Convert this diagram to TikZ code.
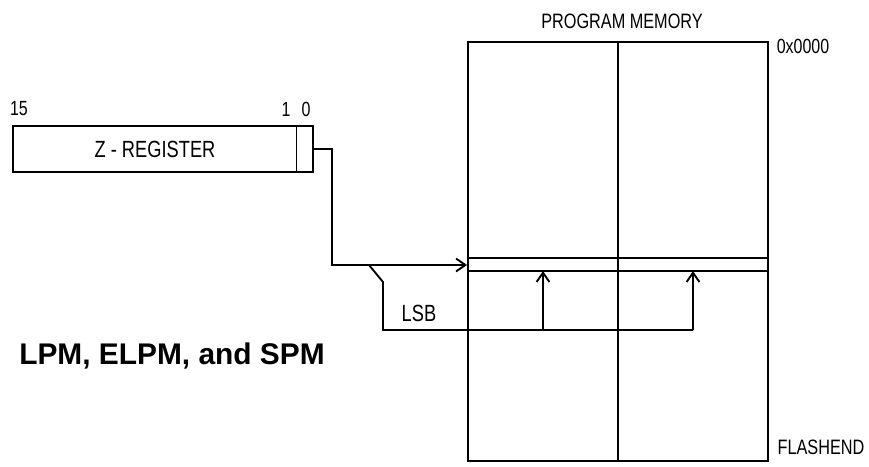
\documentclass[tikz,border=0pt]{standalone}
\usepackage{fontspec}
\setmainfont{Liberation Sans}
\newfontfamily\narrowsf[FakeStretch=0.78]{Liberation Sans}
\usepackage{tikz}
\usetikzlibrary{positioning}
\usetikzlibrary{arrows.meta}
\usetikzlibrary{fit}

\tikzset{
  wire/.style={line width=1.6pt},
  tip/.style={-{Straight Barb[length=8pt,width=11pt,line width=1.6pt]}},
  box/.style={draw, line width=1.6pt, inner sep=0pt},
  lbl/.style={font=\narrowsf\fontsize{17.8}{20}\selectfont, inner sep=0pt},
  bitlbl/.style={font=\narrowsf\fontsize{17.5}{19}\selectfont, inner sep=0pt},
}

\begin{document}
\begin{tikzpicture}[x=0.03cm, y=-0.03cm]
\useasboundingbox (0,0) rectangle (869,466);

%---------------------------------------
% Z register
%---------------------------------------
\coordinate (zr-nw) at (13,126);
\coordinate (zr-se) at (313,172);
\node[box, fit=(zr-nw)(zr-se)] (zreg) {};
\draw[line width=0.8pt] (296,126) -- (296,172);  % bit 0
\node[lbl, font=\narrowsf\fontsize{20}{22}\selectfont] (zname) at (155,149) {Z - REGISTER};
\node[bitlbl] (bit15) at (19,109) {15};
\node[bitlbl] (bit1) at (286,109) {1};
\node[bitlbl] (bit0) at (306,109) {0};

%---------------------------------------
% Program memory
%---------------------------------------
\coordinate (pm-nw) at (468,42);
\coordinate (pm-se) at (768,461);
\node[box, fit=(pm-nw)(pm-se)] (mem) {};
\draw[wire] (mem.north) -- (mem.south);
\coordinate (row-w) at (468,258);
\coordinate (row-e) at (768,258);
\coordinate (rowb-w) at (468,271);
\coordinate (rowb-e) at (768,271);
\draw[wire] (row-w) -- (row-e);
\draw[wire] (rowb-w) -- (rowb-e);

\node[lbl] (memname) at (622,21) {PROGRAM MEMORY};
\node[bitlbl] (start) at (803,46) {0x0000};
\node[lbl] (flashend) at (821,447) {FLASHEND};

%---------------------------------------
% Address path
%---------------------------------------
\coordinate (addr) at (mem.west |- 0,265);
\draw[wire, tip] (zreg.east) -| (332,265) -- (addr);

% LSB selects the byte
\coordinate (lowbyte) at (543,271);
\coordinate (highbyte) at (693,271);
\draw[wire] (369,265) -- (383,282) -- (383,330) -- (693,330);
\draw[wire, tip] (543,330) -- (lowbyte);
\draw[wire, tip] (693,330) -- (highbyte);
\node[lbl, font=\narrowsf\fontsize{20}{22}\selectfont] (lsb) at (419,313) {LSB};

\node[font=\bfseries\fontsize{25.5}{28}\selectfont, inner sep=0pt] (title) at (172,356) {LPM, ELPM, and SPM};
\end{tikzpicture}
\end{document}
